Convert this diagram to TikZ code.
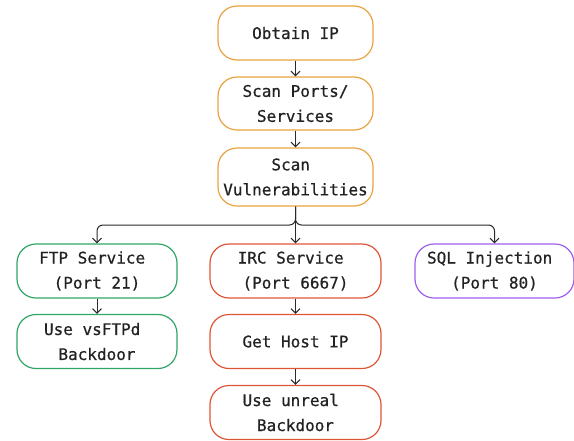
\documentclass[tikz,border=0pt]{standalone}
\usepackage{fontspec}
\newfontfamily\boxfont{DejaVu Sans Mono}[FakeBold=0.6]
\usetikzlibrary{arrows.meta}
\definecolor{cOrange}{HTML}{E8A341}
\definecolor{cGreen}{HTML}{2FA566}
\definecolor{cRed}{HTML}{DE5536}
\definecolor{cPurple}{HTML}{9D5EEB}
\definecolor{cText}{HTML}{222222}
\definecolor{cLine}{HTML}{2A2A2A}
\newcommand{\tsp}{\hphantom{x}}
\tikzset{
  box/.style={draw, line width=1.2pt, rounded corners=19pt, align=center,
    text=cText, font=\boxfont\fontsize{16pt}{25pt}\selectfont, inner sep=0pt},
  ob/.style={box, draw=cOrange, minimum width=155pt},
  gb/.style={box, draw=cGreen, minimum width=160pt, minimum height=54pt},
  rb/.style={box, draw=cRed, minimum width=171pt, minimum height=54pt},
  pb/.style={box, draw=cPurple, minimum width=159pt, minimum height=54pt},
  arr/.style={draw=cLine, line width=1pt, -{Straight Barb[length=4.5pt,width=9pt]}}
}
\begin{document}
\begin{tikzpicture}[x=1pt,y=-1pt]
\useasboundingbox (0,0) rectangle (574,440);
\node[ob, minimum height=54pt] (obtain) at (295.5,33) {Obtain IP};
\node[ob, minimum height=53pt] (scan) at (295.5,103.5) {Scan Ports/\\Services};
\node[ob, minimum height=58pt] (vuln) at (295.5,177) {Scan\tsp\\Vulnerabilities};
\node[gb] (ftp) at (97,271) {FTP Service\tsp\\(Port 21)};
\node[gb] (vsftpd) at (97,341.5) {Use vsFTPd\tsp\\Backdoor};
\node[rb] (irc) at (295.5,271) {IRC Service\tsp\\(Port 6667)};
\node[rb] (host) at (295.5,341.5) {Get Host IP};
\node[rb] (unreal) at (295.5,412.5) {Use unreal\tsp\\Backdoor};
\node[pb] (sql) at (494.5,271) {SQL Injection\tsp\\(Port 80)};
\coordinate (split) at (295.5,225);
\draw[arr] (obtain) -- (scan);
\draw[arr] (scan) -- (vuln);
\draw[arr] (vuln) -- (irc);
\draw[arr, rounded corners=6pt] (vuln.south) -- (split) -| (ftp.north);
\draw[arr, rounded corners=6pt] (vuln.south) -- (split) -| (sql.north);
\draw[arr] (ftp) -- (vsftpd);
\draw[arr] (irc) -- (host);
\draw[arr] (host) -- (unreal);
\end{tikzpicture}
\end{document}
